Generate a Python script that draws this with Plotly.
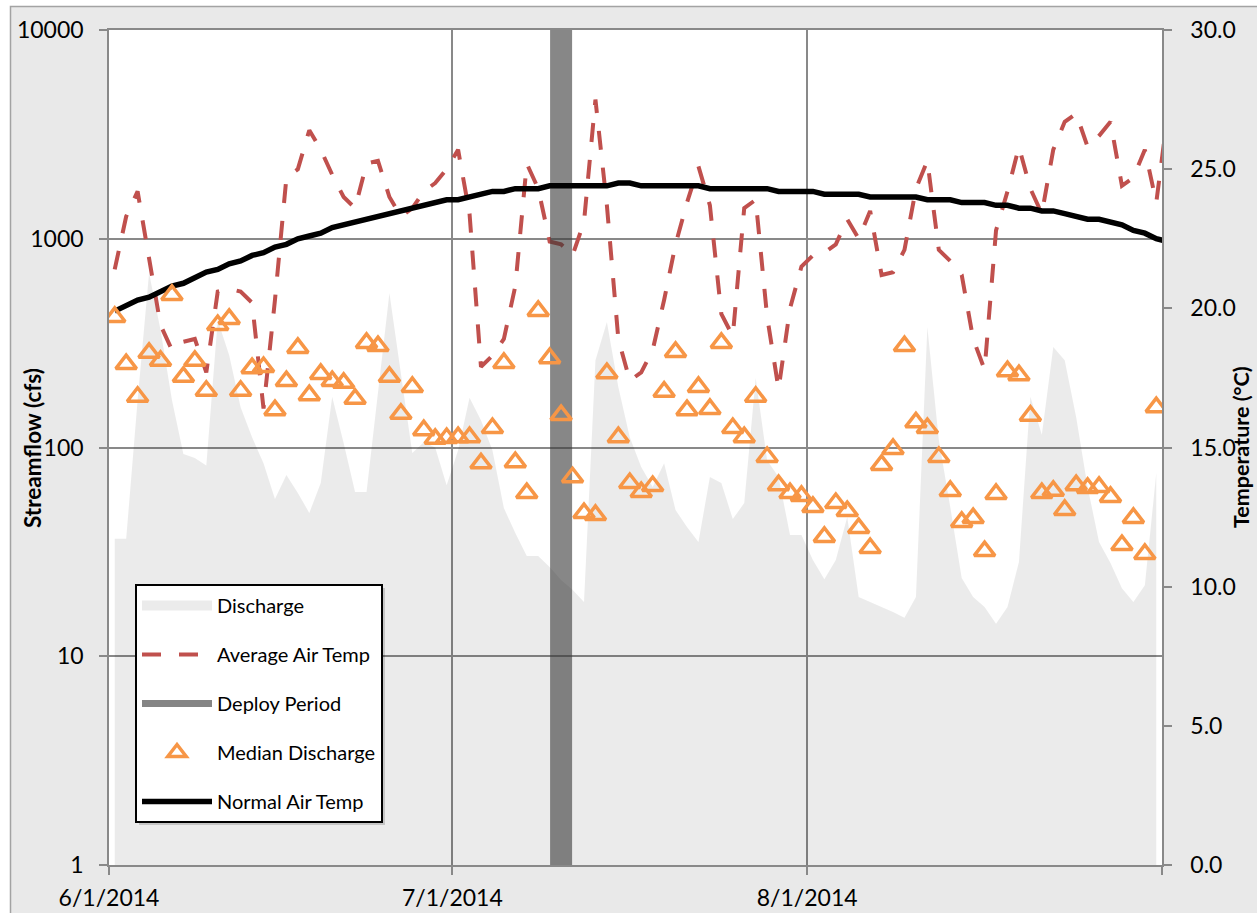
import pandas as pd
import plotly.graph_objects as go

# ---- data -------------------------------------------------------------
# daily flow series, 6/1/2014 - 8/31/2014
flow_days = pd.date_range("2014-06-01", "2014-08-31", freq="D")
# daily air temperature series, 6/1/2014 - 9/1/2014
temp_days = pd.date_range("2014-06-01", "2014-09-01", freq="D")
deploy_dates = ["2014-07-10"]

discharge_cfs = [
    36.5, 36.5, 169, 685, 366, 169, 93, 89, 82, 408,
    277, 156, 112, 84, 56.7, 73.9, 60.5, 48.6, 67.6, 175,
    105, 61.2, 61.2, 182, 550, 227, 94, 106, 100, 66,
    97, 173, 135, 97, 51.3, 38.9, 30.2, 30.2, 26.8, 23.2,
    20.8, 18.2, 262, 399, 195, 112, 80.7, 64.7, 84, 50.2,
    41.6, 35.3, 72.2, 67.6, 45.4, 54.2, 215, 87, 72.2, 38.1,
    38.1, 28.9, 23.4, 28.9, 46.5, 19.2, 18.2, 17.2, 16.3, 15.3,
    19.2, 378, 109, 51.9, 23.7, 19.2, 17.2, 14.3, 17.2, 28.3,
    175, 115, 303, 262, 140, 64.7, 35.3, 28, 21.2, 18.2,
    21.9, 75.5,
]

median_discharge_cfs = [
    422, 251, 175, 284, 260, 538, 218, 260, 187, 386,
    413, 187, 240, 243, 151, 208, 300, 178, 225, 208,
    204, 171, 317, 306, 218, 145, 195, 121, 110, 111,
    112, 112, 84, 124, 254, 85, 60.5, 451, 268, 143,
    72, 48.5, 47.5, 227, 112, 67.6, 61.2, 65.4, 185, 287,
    151, 195, 153, 317, 124, 112, 175, 90, 66, 60.5,
    58.6, 51.9, 37.3, 54.2, 49.6, 41.1, 33.0, 82.5, 98.4, 306,
    132, 124, 90, 61.9, 44, 45.9, 31.9, 59.9, 232, 222,
    142, 60.5, 62, 50.2, 66, 64, 64.7, 58, 34.1, 46,
    30.9, 156,
]

avg_air_temp_c = [
    21.4, 23.3, 24.2, 21.8, 19.4, 18.5, 18.8, 18.9, 17.7, 20.6,
    20.7, 20.6, 20.2, 16.4, 20.3, 24.7, 25.0, 26.4, 25.7, 24.8,
    24.0, 23.6, 25.2, 25.3, 24.0, 23.3, 23.6, 24.2, 24.5, 25.0,
    25.7, 23.4, 17.9, 18.3, 18.9, 20.8, 25.2, 24.3, 22.4, 22.3,
    21.9, 23.1, 27.5, 23.7, 18.9, 17.4, 17.7, 18.5, 20.3, 22.3,
    23.8, 25.1, 23.7, 19.8, 19.0, 23.6, 23.9, 19.7, 17.1, 20.0,
    21.5, 21.9, 22.0, 22.3, 23.2, 22.5, 23.5, 21.2, 21.3, 22.1,
    24.3, 25.3, 22.1, 21.7, 21.2, 18.9, 17.8, 22.8, 24.2, 25.8,
    24.3, 23.4, 25.7, 26.7, 27.0, 25.8, 26.2, 26.7, 24.4, 24.7,
    25.7, 23.8, 27.0,
]

normal_air_temp_c = [
    19.9, 20.1, 20.3, 20.4, 20.6, 20.8, 20.9, 21.1, 21.3, 21.4,
    21.6, 21.7, 21.9, 22.0, 22.2, 22.3, 22.5, 22.6, 22.7, 22.9,
    23.0, 23.1, 23.2, 23.3, 23.4, 23.5, 23.6, 23.7, 23.8, 23.9,
    23.9, 24.0, 24.1, 24.2, 24.2, 24.3, 24.3, 24.3, 24.4, 24.4,
    24.4, 24.4, 24.4, 24.4, 24.5, 24.5, 24.4, 24.4, 24.4, 24.4,
    24.4, 24.4, 24.3, 24.3, 24.3, 24.3, 24.3, 24.3, 24.2, 24.2,
    24.2, 24.2, 24.1, 24.1, 24.1, 24.1, 24.0, 24.0, 24.0, 24.0,
    24.0, 23.9, 23.9, 23.9, 23.8, 23.8, 23.8, 23.7, 23.7, 23.6,
    23.6, 23.5, 23.5, 23.4, 23.3, 23.2, 23.2, 23.1, 23.0, 22.8,
    22.7, 22.5, 22.4,
]

tick_dates = ["2014-06-01", "2014-07-01", "2014-08-01", "2014-09-01"]
tick_labels = ["6/1/2014", "7/1/2014", "8/1/2014", ""]
flow_ticks = [1, 10, 100, 1000, 10000]
flow_tick_labels = ["1", "10", "100", "1000", "10000"]
temp_ticks = [0, 5, 10, 15, 20, 25, 30]
temp_tick_labels = ["0.0", "5.0", "10.0", "15.0", "20.0", "25.0", "30.0"]

# ---- styling ------------------------------------------------------------
FONT = "Lato, 'Open Sans', sans-serif"
GRID = "#898989"
AREA = "rgba(0,0,0,0.078)"
DEPLOY = "rgba(55,55,55,0.6)"
W, H = 1257, 913
L, R, T, B = 109, 95, 30, 48
PW, PH = W - L - R, H - T - B


def px_x(px):
    return (px - L) / PW


def px_y(py):
    return (H - B - py) / PH


# points sit in the middle of each day slot
half_day = pd.Timedelta(hours=12)
x_flow = flow_days + half_day
x_temp = temp_days + half_day
x_deploy = pd.to_datetime(deploy_dates) + half_day

fig = go.Figure()

# discharge area (legend swatch drawn by a separate entry below)
fig.add_trace(go.Scatter(
    x=x_flow, y=discharge_cfs, name="Discharge", mode="lines",
    line=dict(width=0, color="rgba(0,0,0,0)"), fill="tozeroy",
    fillcolor=AREA, yaxis="y", legendgroup="g1", showlegend=False,
))
fig.add_trace(go.Scatter(
    x=[None], y=[None], name="Discharge", mode="lines",
    line=dict(width=12, color="#ebebeb"), yaxis="y2", legendgroup="g1",
))

fig.add_trace(go.Scatter(
    x=x_temp, y=avg_air_temp_c, name="Average Air Temp", mode="lines",
    line=dict(color="#c0504d", width=4, dash="19px,18px"),
    yaxis="y2", legendgroup="g2",
))

fig.add_trace(go.Scatter(
    x=[x_deploy[0], x_deploy[0]], y=[temp_ticks[0], temp_ticks[-1]],
    name="Deploy Period", mode="lines",
    line=dict(color=DEPLOY, width=22),
    yaxis="y2", legendgroup="g3", showlegend=False,
))
fig.add_trace(go.Scatter(
    x=[None], y=[None], name="Deploy Period", mode="lines",
    line=dict(color="#858585", width=7), yaxis="y2", legendgroup="g3",
))

fig.add_trace(go.Scatter(
    x=x_flow, y=median_discharge_cfs, name="Median Discharge", mode="markers",
    marker=dict(symbol="triangle-up-open", size=18, color="#f79646",
                line=dict(width=3.5, color="#f79646")),
    yaxis="y3", legendgroup="g4",
))

fig.add_trace(go.Scatter(
    x=x_temp, y=normal_air_temp_c, name="Normal Air Temp", mode="lines",
    line=dict(color="black", width=5.5),
    yaxis="y2", legendgroup="g5",
))

axis_common = dict(
    showline=True, linecolor=GRID, linewidth=1.5, automargin=False,
    ticks="outside", ticklen=8, tickwidth=1.5, tickcolor=GRID,
    zeroline=False, tickfont=dict(family=FONT, size=23, color="black"),
)

fig.update_layout(
    width=W, height=H,
    margin=dict(l=L, r=R, t=T, b=B),
    paper_bgcolor="#e9e9e9", plot_bgcolor="white",
    font=dict(family=FONT, size=23, color="black"),
    xaxis=dict(
        type="date", range=[tick_dates[0], tick_dates[-1]],
        tickmode="array", tickvals=tick_dates, ticktext=tick_labels,
        showgrid=True, gridcolor=GRID, gridwidth=1.5, mirror=True,
        ticklabelstandoff=4, **axis_common,
    ),
    yaxis=dict(
        type="log", range=[0, 4], tickmode="array",
        tickvals=flow_ticks, ticktext=flow_tick_labels,
        showgrid=True, gridcolor=GRID, gridwidth=1.5, mirror=True,
        ticklabelstandoff=11, **axis_common,
    ),
    yaxis2=dict(
        overlaying="y", side="right", range=[temp_ticks[0], temp_ticks[-1]],
        tickmode="array", tickvals=temp_ticks, ticktext=temp_tick_labels,
        showgrid=False, ticklabelstandoff=14, **axis_common,
    ),
    yaxis3=dict(overlaying="y", type="log", range=[0, 4], visible=False),
    showlegend=True,
    legend=dict(
        x=px_x(135), y=px_y(584), xanchor="left", yanchor="top",
        bgcolor="white", bordercolor="black", borderwidth=2,
        font=dict(family=FONT, size=20, color="black"),
        traceorder="grouped", tracegroupgap=20, itemwidth=70,
    ),
    annotations=[
        dict(text="<b>Streamflow (cfs)</b>", xref="paper", yref="paper",
             x=px_x(32), y=px_y(448), xanchor="center", yanchor="middle",
             textangle=-90, showarrow=False,
             font=dict(family="Lato", size=22.5, color="black")),
        dict(text="<b>Temperature (°C)</b>", xref="paper", yref="paper",
             x=px_x(1241), y=px_y(447), xanchor="center", yanchor="middle",
             textangle=-90, showarrow=False,
             font=dict(family="Lato", size=21.5, color="black")),
    ],
    shapes=[
        # white margin outside the chart frame
        dict(type="rect", xref="paper", yref="paper", layer="below",
             x0=px_x(-20), x1=px_x(10), y0=px_y(940), y1=px_y(-20),
             fillcolor="white", line=dict(width=0)),
        dict(type="rect", xref="paper", yref="paper", layer="below",
             x0=px_x(-20), x1=px_x(1280), y0=px_y(6), y1=px_y(-20),
             fillcolor="white", line=dict(width=0)),
        dict(type="rect", xref="paper", yref="paper", layer="below",
             x0=px_x(10.5), x1=px_x(1290), y0=px_y(940), y1=px_y(6.5),
             fillcolor="rgba(0,0,0,0)", line=dict(color="#a3a3a3", width=1.5)),
        # legend drop shadow
        dict(type="rect", xref="paper", yref="paper", layer="above",
             x0=px_x(139), x1=px_x(385), y0=px_y(825), y1=px_y(588),
             fillcolor="rgba(0,0,0,0.16)", line=dict(width=0)),
    ],
)

fig.write_html("out.html")
